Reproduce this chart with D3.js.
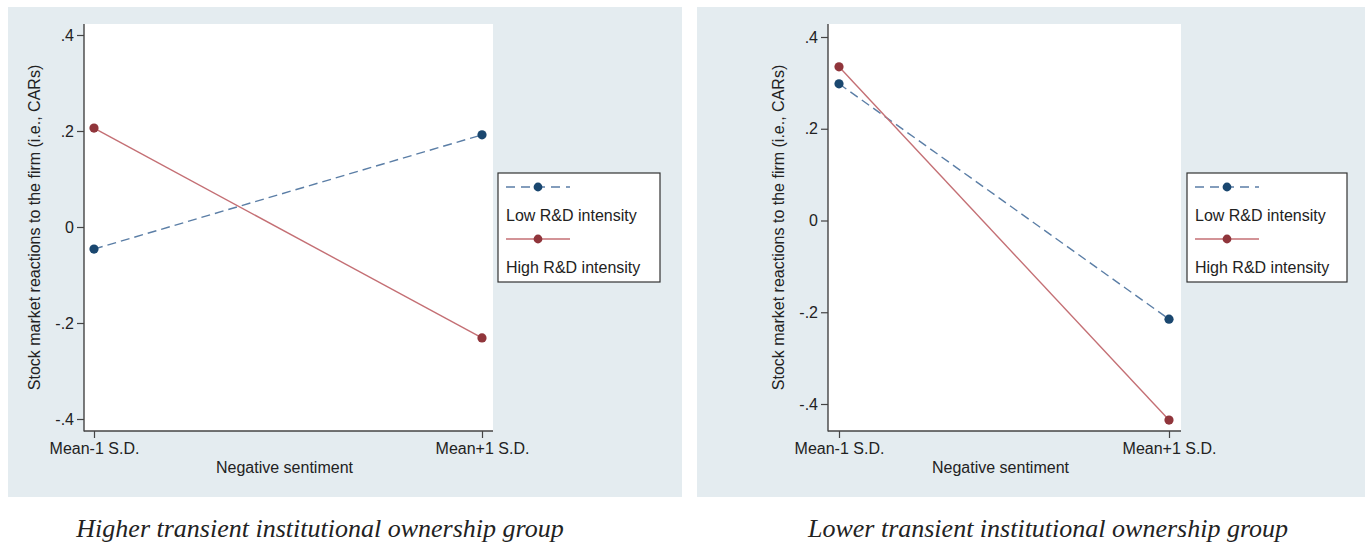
<!DOCTYPE html>
<html>
<head>
<meta charset="utf-8">
<script src="https://cdn.jsdelivr.net/npm/d3@7"></script>
<style>
  body { margin: 0; background: #fff; }
  text { font-family: Arial, "Liberation Sans", sans-serif; fill: #222; }
</style>
</head>
<body>
<div id="chart"></div>
<script>
const xLabels = ['Mean-1 S.D.', 'Mean+1 S.D.'];
const yTicks = [-0.4, -0.2, 0, 0.2, 0.4];
const seriesNames = ['Low R&D intensity', 'High R&D intensity'];

// higher transient ownership group
const higherLow = [-0.046, 0.192];
const higherHigh = [0.206, -0.231];
// lower transient ownership group
const lowerLow = [0.298, -0.215];
const lowerHigh = [0.335, -0.435];

const captions = ['Higher transient institutional ownership group', 'Lower transient institutional ownership group'];

const width = 1372;
const height = 545;
const blue = '#1a476f', blueLine = '#5b7ea6';
const red = '#90353b', redLine = '#c46f74';

const svg = d3.select('#chart')
              .append('svg')
              .attr('width', width)
              .attr('height', height);

const panels = [
  {bg: [8, 7, 674, 490], plot: [84, 24, 493, 431], y: [419, 35], x: [94, 482],
   legend: [498, 173, 162, 109], low: higherLow, high: higherHigh, caption: captions[0], capX: 320},
  {bg: [697, 7, 668, 490], plot: [828, 24, 1181, 431], y: [404, 37], x: [839, 1169],
   legend: [1187, 173, 160, 109], low: lowerLow, high: lowerHigh, caption: captions[1], capX: 1048}
];

panels.forEach(p => drawPanel(p));

function drawPanel(p) {
  const g = svg.append('g');
  g.append('rect')
   .attr('x', p.bg[0]).attr('y', p.bg[1])
   .attr('width', p.bg[2]).attr('height', p.bg[3])
   .attr('fill', '#e4ecf0');

  const [x0, y0, x1, y1] = p.plot;
  g.append('rect')
   .attr('x', x0).attr('y', y0)
   .attr('width', x1 - x0).attr('height', y1 - y0)
   .attr('fill', '#fff');

  const xScale = d3.scalePoint().domain(xLabels).range(p.x);
  const yScale = d3.scaleLinear().domain([-0.4, 0.4]).range(p.y);

  const fmt = d => d === 0 ? '0' : (d < 0 ? '-' : '') + d3.format('.1f')(Math.abs(d)).replace('0.', '.');
  const yAxis = d3.axisLeft(yScale).tickValues(yTicks).tickFormat(fmt).tickSize(7).tickSizeOuter(0);
  const xAxis = d3.axisBottom(xScale).tickSize(7).tickSizeOuter(0);

  const ya = g.append('g').attr('transform', `translate(${x0},0)`).call(yAxis);
  const xa = g.append('g').attr('transform', `translate(0,${y1})`).call(xAxis);
  [ya, xa].forEach(a => {
    a.select('.domain').remove();
    a.selectAll('line').attr('stroke', '#444').attr('stroke-width', 1.2);
    a.selectAll('text').style('font-size', '16px').attr('fill', '#2a2a2a');
  });
  ya.selectAll('text').attr('x', -10);
  xa.selectAll('text').attr('y', 12);

  g.append('line').attr('x1', x0).attr('x2', x0).attr('y1', y0).attr('y2', y1 + 0.5)
   .attr('stroke', '#444').attr('stroke-width', 1.4);
  g.append('line').attr('x1', x0).attr('x2', x1).attr('y1', y1).attr('y2', y1)
   .attr('stroke', '#444').attr('stroke-width', 1.4);

  g.append('text')
   .attr('transform', `translate(${x0 - 48},${(y0 + y1) / 2}) rotate(-90)`)
   .attr('text-anchor', 'middle')
   .attr('dominant-baseline', 'middle')
   .style('font-size', '16px')
   .text('Stock market reactions to the firm (i.e., CARs)');

  g.append('text')
   .attr('x', (x0 + x1) / 2 - 4).attr('y', 473)
   .attr('text-anchor', 'middle')
   .style('font-size', '16px')
   .text('Negative sentiment');

  const line = d3.line().x((d, i) => xScale(xLabels[i])).y(d => yScale(d));
  const series = [
    {vals: p.low, color: blue, lc: blueLine, dash: '9,5'},
    {vals: p.high, color: red, lc: redLine, dash: null}
  ];
  series.forEach(s => {
    g.append('path').datum(s.vals)
     .attr('d', line).attr('fill', 'none')
     .attr('stroke', s.lc).attr('stroke-width', 1.4)
     .attr('stroke-dasharray', s.dash);
    g.selectAll(null).data(s.vals).enter().append('circle')
     .attr('cx', (d, i) => xScale(xLabels[i]))
     .attr('cy', d => yScale(d))
     .attr('r', 4.6)
     .attr('fill', s.color);
  });

  // legend
  const [lx, ly, lw, lh] = p.legend;
  const lg = g.append('g');
  lg.append('rect').attr('x', lx).attr('y', ly).attr('width', lw).attr('height', lh)
    .attr('fill', '#fff').attr('stroke', '#333').attr('stroke-width', 1.2);
  series.forEach((s, i) => {
    const yy = ly + 14 + i * 52;
    lg.append('line').attr('x1', lx + 8).attr('x2', lx + 72).attr('y1', yy).attr('y2', yy)
      .attr('stroke', s.lc).attr('stroke-width', 1.4).attr('stroke-dasharray', s.dash ? '9,6' : null);
    lg.append('circle').attr('cx', lx + 40).attr('cy', yy).attr('r', 4.4).attr('fill', s.color);
    lg.append('text').attr('x', lx + 8).attr('y', yy + 34)
      .style('font-size', '16px').text(seriesNames[i]);
  });

  svg.append('text')
     .attr('x', p.capX).attr('y', 537)
     .attr('text-anchor', 'middle')
     .style('font-family', '"Liberation Serif", "Times New Roman", serif')
     .style('font-style', 'italic')
     .style('font-size', '26px')
     .attr('fill', '#111')
     .text(p.caption);
}
</script>
</body>
</html>
